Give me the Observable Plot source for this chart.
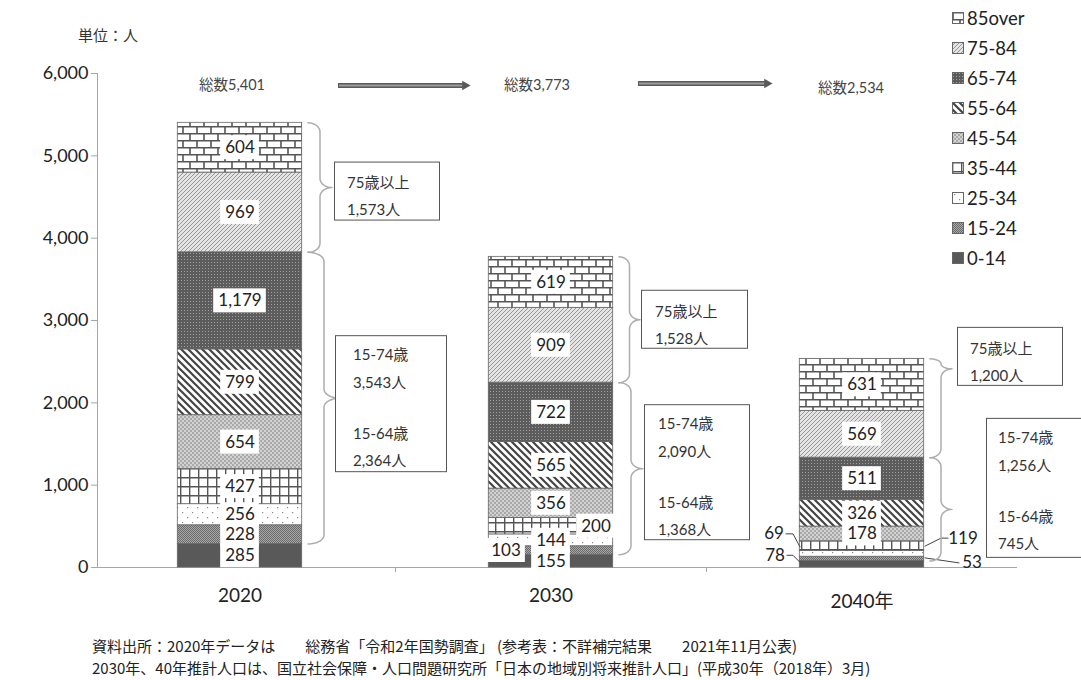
<!DOCTYPE html>
<html>
<head>
<meta charset="utf-8">
<script src="https://cdn.jsdelivr.net/npm/d3@7"></script>
<script src="https://cdn.jsdelivr.net/npm/@observablehq/plot@0.6"></script>
<style>
  body { margin: 0; background: #fff; }
  #wrap { position: relative; width: 1081px; height: 680px; overflow: hidden; background: #fff; }
  #chart { position: absolute; left: 0; top: 0; }
  #unit { position: absolute; left: 78px; top: 25px; font: 15px/20px "Noto Sans CJK JP", sans-serif; color: #333; }
  #legend { position: absolute; left: 952px; top: 3px; }
  .li { display: flex; align-items: center; height: 30px; font: 18.5px Lato, "Noto Sans CJK JP", sans-serif; color: #222; }
  .li svg { margin-right: 3px; }
  #caption { position: absolute; left: 92px; top: 635px; font: 15px/22px "Noto Sans CJK JP", sans-serif; color: #222; white-space: nowrap; }
</style>
</head>
<body>
<div id="wrap">
  <svg width="0" height="0" style="position:absolute">
    <defs>
      <pattern id="p85" width="14" height="14" patternUnits="userSpaceOnUse">
        <rect width="14" height="14" fill="#fff"/>
        <path d="M0 0.8H14M0 7.8H14M1 0.8V7.8M8 7.8V14.8" stroke="#555" stroke-width="1.6" fill="none"/>
      </pattern>
      <pattern id="p75" width="4" height="4" patternUnits="userSpaceOnUse">
        <rect width="4" height="4" fill="#e4e4e4"/>
        <path d="M-1 1L1 -1M0 4L4 0M3 5L5 3" stroke="#8e8e8e" stroke-width="0.9"/>
      </pattern>
      <pattern id="p65" width="3" height="3" patternUnits="userSpaceOnUse">
        <rect width="3" height="3" fill="#5c5c5c"/>
        <rect x="1" y="1" width="1" height="1" fill="#a0a0a0"/>
      </pattern>
      <pattern id="p55" width="7" height="7" patternUnits="userSpaceOnUse">
        <rect width="7" height="7" fill="#fff"/>
        <path d="M-2 -2L9 9M-2 5L2 9M5 -2L9 2" stroke="#444" stroke-width="2.2"/>
      </pattern>
      <pattern id="p45" width="4" height="4" patternUnits="userSpaceOnUse">
        <rect width="4" height="4" fill="#d2d2d2"/>
        <rect x="0" y="0" width="2" height="2" fill="#a9a9a9"/>
        <rect x="2" y="2" width="2" height="2" fill="#a9a9a9"/>
      </pattern>
      <pattern id="p35" width="9" height="9" patternUnits="userSpaceOnUse">
        <rect width="9" height="9" fill="#fff"/>
        <path d="M0.7 0V9M0 0.7H9" stroke="#555" stroke-width="1.4"/>
      </pattern>
      <pattern id="p25" width="10" height="10" patternUnits="userSpaceOnUse">
        <rect width="10" height="10" fill="#fff"/>
        <rect x="2" y="2" width="1.2" height="1.2" fill="#888"/>
        <rect x="7" y="7" width="1.2" height="1.2" fill="#888"/>
      </pattern>
      <pattern id="p15" width="2" height="2" patternUnits="userSpaceOnUse">
        <rect width="2" height="2" fill="#a8a8a8"/>
        <rect x="0" y="0" width="1" height="1" fill="#6a6a6a"/>
        <rect x="1" y="1" width="1" height="1" fill="#6a6a6a"/>
      </pattern>
      <pattern id="p0" width="4" height="4" patternUnits="userSpaceOnUse">
        <rect width="4" height="4" fill="#595959"/>
      </pattern>
    </defs>
  </svg>
  <div id="chart"></div>
  <div id="unit">単位：人</div>
  <div id="legend"></div>
  <div id="caption">
    <div>資料出所：2020年データは　　総務省「令和2年国勢調査」 (参考表：不詳補完結果　　2021年11月公表)</div>
    <div>2030年、40年推計人口は、国立社会保障・人口問題研究所「日本の地域別将来推計人口」(平成30年（2018年）3月)</div>
  </div>
</div>
<script>
// ---------------- data ----------------
const years = ["2020", "2030", "2040"];
const yearLabels = ["2020", "2030", "2040年"];
const ageGroups = ["0-14", "15-24", "25-34", "35-44", "45-54", "55-64", "65-74", "75-84", "85over"];
const pop2020 = [285, 228, 256, 427, 654, 799, 1179, 969, 604];
const pop2030 = [155, 103, 144, 200, 356, 565, 722, 909, 619];
const pop2040 = [78, 53, 69, 119, 178, 326, 511, 569, 631];
const totals = [5401, 3773, 2534];
const over75 = [1573, 1528, 1200];
const age15to74 = [3543, 2090, 1256];
const age15to64 = [2364, 1368, 745];
const yTicks = [0, 1000, 2000, 3000, 4000, 5000, 6000];

// ---------------- layout ----------------
const patternIds = {"0-14": "p0", "15-24": "p15", "25-34": "p25", "35-44": "p35", "45-54": "p45",
  "55-64": "p55", "65-74": "p65", "75-84": "p75", "85over": "p85"};
const W = 1081, H = 615, ML = 84, MR = 64, MT = 73, MB = 48;
const kx = (W - ML - MR) / 3;        // px per category unit
const ky = (H - MT - MB) / 6000;     // px per person
const ox = (i, px) => i + px / kx;   // shift px to the right of a category centre
const oy = (v, px) => v - px / ky;   // shift px downward from a value
const fmt = d3.format(",");
const NUM = "Lato, 'Noto Sans CJK JP', sans-serif";
const AXIS_X = ox(-0.5, 13);         // y-axis line position

const series = [pop2020, pop2030, pop2040];
const rows = [];
series.forEach((vals, i) => {
  let c = 0;
  vals.forEach((v, k) => {
    rows.push({i, year: years[i], age: ageGroups[k], value: v, y1: c, y2: c + v, mid: c + v / 2});
    c += v;
  });
});

// label placement for thin segments (pixel offsets)
const tweaks = {
  "1|15-24": {dx: -45, dy: 0},
  "1|35-44": {dx: 45, dy: 0},
  "2|0-14": {dx: -87, dy: -9, free: true, lead: [[-75, -9], [-69, -9], [-62, -2]]},
  "2|25-34": {dx: -88, dy: -20, free: true, lead: [[-76, -20], [-69, -20], [-62, -7]]},
  "2|35-44": {dx: 101, dy: -8, free: true, lead: [[86, -8], [79, -8], [63, 0]]},
  "2|15-24": {dx: 110, dy: 4, free: true, lead: [[97, 4], [63, -1]]}
};
const labels = rows.map(d => Object.assign({dx: 0, dy: 0, free: false}, d, tweaks[d.i + "|" + d.age] || {}));
const boxedLabels = labels.filter(d => !d.free);
const freeLabels = labels.filter(d => d.free);
const labelW = d => { const s = fmt(d.value); return s.replace(/,/g, "").length * 9.9 + (s.split(",").length - 1) * 4 + 9; };
const leaders = [];
freeLabels.forEach(d => d.lead.forEach(([px, py]) => leaders.push({id: d.i + d.age, x: ox(d.i, px), y: oy(d.mid, py)})));

// braces and boxes
const groups = [];
years.forEach((y, i) => {
  const t75 = totals[i], b75 = totals[i] - over75[i], b74 = b75 - age15to74[i];
  groups.push({i, kind: "75", top: t75, bot: b75, lines: ["75歳以上", fmt(over75[i]) + "人"]});
  groups.push({i, kind: "74", top: b75, bot: b74, lines: ["15-74歳", fmt(age15to74[i]) + "人", "15-64歳", fmt(age15to64[i]) + "人"]});
});
const geom = {
  "0|75": {tipX: 92, tipPx: null, bx: 95, bw: 105, bh: 58, bdy: 4, tx: 12},
  "0|74": {tipX: 100, tipPx: null, bx: 96, bw: 111, bh: 136, bdy: 6, tx: 17},
  "1|75": {tipX: 89, tipPx: null, bx: 91, bw: 106, bh: 58, bdy: 0, tx: 13},
  "1|74": {tipX: 92, tipPx: null, bx: 94, bw: 105, bh: 135, bdy: 4, tx: 13},
  "2|75": {tipX: 90, tipPx: 10, bx: 96, bw: 105, bh: 58, bdy: -12, tx: 12},
  "2|74": {tipX: 90, tipPx: null, bx: 125, bw: 110, bh: 139, bdy: -21, tx: 11}
};
function bracePoints(id, i, top, bot, tipY, tipX) {
  // build a curly brace in pixel space (relative to category centre / value 0), then map back to data units
  const X0 = 68, w = tipX - X0, hw = w / 2, Xm = X0 + hw, Xt = X0 + w;
  const Yt = -top * ky, Yb = -bot * ky, Yp = -tipY * ky;
  const rU = Math.min(9, (Yp - Yt) / 2), rL = Math.min(9, (Yb - Yp) / 2);
  const pts = [];
  const arc = (cx, cy, rx, ry, a0, a1) => {
    for (let k = 0; k <= 8; k++) {
      const a = (a0 + (a1 - a0) * k / 8) * Math.PI / 180;
      pts.push([cx + rx * Math.cos(a), cy + ry * Math.sin(a)]);
    }
  };
  arc(X0, Yt + rU, hw, rU, -90, 0);
  arc(Xt, Yp - rU, hw, rU, 180, 90);
  arc(Xt, Yp + rL, hw, rL, -90, -180);
  arc(X0, Yb - rL, hw, rL, 0, 90);
  return pts.map(([X, Y]) => ({id, x: i + X / kx, y: -Y / ky}));
}
const braceLines = [], boxes = [], boxTexts = [];
groups.forEach(g => {
  const o = geom[g.i + "|" + g.kind];
  const tipY = o.tipPx == null ? (g.top + g.bot) / 2 : oy(g.top, o.tipPx);
  braceLines.push(...bracePoints(g.i + g.kind, g.i, g.top, g.bot, tipY, o.tipX));
  const yc = oy(tipY, o.bdy);
  const yTop = oy(yc, -o.bh / 2), yBot = oy(yc, o.bh / 2);
  boxes.push({x1: ox(g.i, o.bx), x2: ox(g.i, o.bx + o.bw), y1: yBot, y2: yTop});
  const offs = g.lines.length === 2 ? [21, 48] : [19, 47, 98, 125];
  g.lines.forEach((s, k) => boxTexts.push({x: ox(g.i, o.bx + o.tx), y: oy(yTop, offs[k]), text: s}));
});

const totalLabels = totals.map((t, i) => ({x: ox(i, [-8, -14, -11][i]), y: oy(6000, [12, 12, 15][i]), text: "総数" + fmt(t)}));
const arrows = [
  {x1: ox(0, 98), x2: ox(0, 230), y: oy(6000, 12)},
  {x1: ox(1, 87), x2: ox(1, 221), y: oy(6000, 10)}
];

const chart = Plot.plot({
  width: W, height: H, marginLeft: ML, marginRight: MR, marginTop: MT, marginBottom: MB,
  x: {domain: [-0.5, 2.5], axis: null},
  y: {domain: [0, 6000], axis: null},
  color: {type: "ordinal", domain: ageGroups, range: ageGroups.map(a => `url(#${patternIds[a]})`)},
  style: {fontFamily: NUM, background: "transparent"},
  marks: [
    Plot.ruleX([AXIS_X], {y1: 0, y2: 6000, stroke: "#a6a6a6"}),
    Plot.ruleY(yTicks, {x1: AXIS_X - 6 / kx, x2: AXIS_X, stroke: "#a6a6a6"}),
    Plot.text(yTicks, {x: AXIS_X - 9 / kx, y: d => d, text: d => fmt(d), textAnchor: "end", fontSize: 18, fill: "#222", fontFamily: NUM}),
    Plot.ruleY([0], {x1: AXIS_X, x2: 2.5, stroke: "#a6a6a6"}),
    Plot.ruleX([0.5, 1.5], {y1: 0, y2: oy(0, 5), stroke: "#a6a6a6"}),
    Plot.text([0, 1], {x: d => d, y: oy(0, 28), text: d => yearLabels[d], fontSize: 19, fill: "#222", fontFamily: NUM}),
    Plot.text([2], {x: d => d, y: oy(0, 34), text: d => yearLabels[d], fontSize: 19, fill: "#222", fontFamily: NUM}),
    Plot.rect(rows, {x1: d => d.i - 0.2, x2: d => d.i + 0.2, y1: "y1", y2: "y2", fill: "age", stroke: "#666", strokeWidth: 0.8}),
    // white backgrounds behind in-bar value labels
    Plot.rect(boxedLabels, {
      x1: d => ox(d.i, d.dx - labelW(d) / 2), x2: d => ox(d.i, d.dx + labelW(d) / 2),
      y1: d => oy(d.mid, d.dy + 12), y2: d => oy(d.mid, d.dy - 12), fill: "#fff"
    }),
    Plot.text(boxedLabels, {x: d => ox(d.i, d.dx), y: d => oy(d.mid, d.dy), text: d => fmt(d.value), fontSize: 17, fill: "#222", fontFamily: NUM}),
    Plot.line(leaders, {x: "x", y: "y", z: "id", stroke: "#444", strokeWidth: 1}),
    Plot.text(freeLabels, {x: d => ox(d.i, d.dx), y: d => oy(d.mid, d.dy), text: d => fmt(d.value), fontSize: 17, fill: "#222", fontFamily: NUM}),
    Plot.line(braceLines, {x: "x", y: "y", z: "id", stroke: "#adadad", strokeWidth: 1.5}),
    Plot.rect(boxes, {x1: "x1", x2: "x2", y1: "y1", y2: "y2", fill: "#fff", stroke: "#555", strokeWidth: 1}),
    Plot.text(boxTexts, {x: "x", y: "y", text: "text", textAnchor: "start", fontSize: 15, fill: "#333", fontFamily: NUM}),
    Plot.text(totalLabels, {x: "x", y: "y", text: "text", fontSize: 14.5, fill: "#444", fontFamily: NUM}),
    // block arrows: dark outline, lighter core, small triangular head
    Plot.link(arrows, {x1: "x1", x2: d => d.x2 - 6 / kx, y1: "y", y2: "y", stroke: "#5a5a5a", strokeWidth: 5}),
    Plot.link(arrows, {x1: d => d.x1 + 1 / kx, x2: d => d.x2 - 7 / kx, y1: "y", y2: "y", stroke: "#9c9c9c", strokeWidth: 2}),
    Plot.dot(arrows, {x: d => d.x2 - 5 / kx, y: "y", symbol: "triangle", rotate: 90, r: 3.6, fill: "#5a5a5a", stroke: "none"})
  ]
});
document.getElementById("chart").append(chart);

// legend
const legend = document.getElementById("legend");
ageGroups.slice().reverse().forEach(a => {
  const row = document.createElement("div");
  row.className = "li";
  row.innerHTML = `<svg width="12" height="12"><rect x="0.5" y="0.5" width="11" height="11" fill="url(#${patternIds[a]})" stroke="#666"/></svg><span>${a}</span>`;
  legend.appendChild(row);
});
</script>
</body>
</html>
